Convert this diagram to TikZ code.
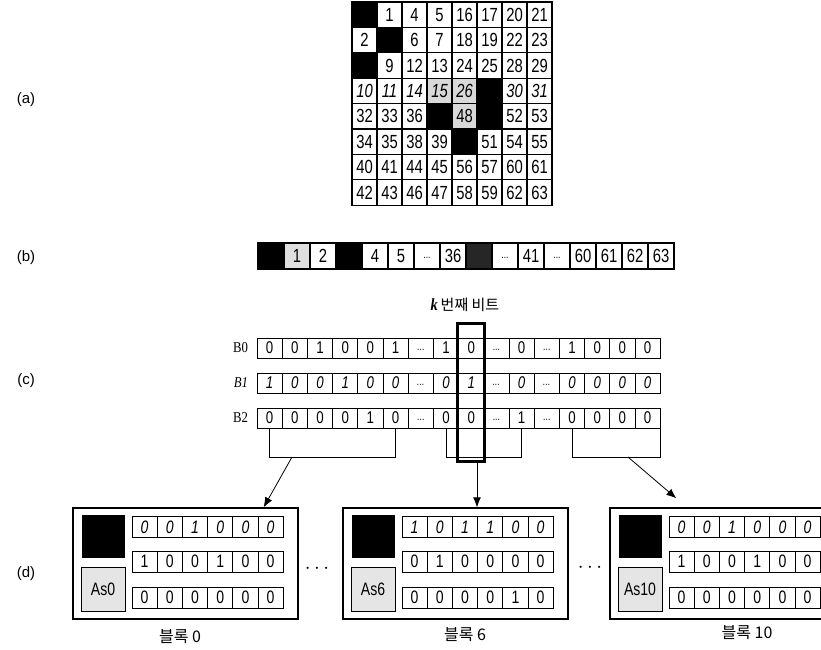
\documentclass[tikz,border=0pt]{standalone}
\usepackage{fontspec}
\setmainfont{Liberation Sans}
\newfontfamily\numfont[FakeStretch=0.78]{Liberation Sans}
\newfontfamily\serfont[FakeStretch=0.85]{Liberation Serif}
\newfontfamily\kofont{Noto Sans CJK KR}
\usetikzlibrary{arrows.meta}
\newcommand{\skipdots}{\raisebox{-4pt}{\fontsize{11}{11}\selectfont...}}

\begin{document}
\begin{tikzpicture}[x=1pt, y=-1pt,
        gcell/.style = {draw, line width=1.2pt, minimum width=25pt, minimum height=25.4pt, inner sep=0pt, font=\numfont\fontsize{19}{19}\selectfont},
        scell/.style = {draw, line width=1.2pt, minimum width=26pt, minimum height=26pt, inner sep=0pt, font=\numfont\fontsize{19}{19}\selectfont},
        bit/.style = {draw, line width=0.9pt, minimum width=25.2pt, minimum height=20pt, inner sep=0pt, font=\numfont\fontsize{17}{17}\selectfont},
        bbit/.style = {draw, line width=0.9pt, minimum width=25.2pt, minimum height=21pt, inner sep=0pt, font=\numfont\fontsize{18}{18}\selectfont},
        tag/.style = {font=\fontsize{15}{15}\selectfont},
        blab/.style = {anchor=east, font=\serfont\fontsize{15}{15}\selectfont},
        blk/.style = {draw, line width=1.3pt, minimum width=225pt, minimum height=111pt, inner sep=0pt},
        arr/.style = {-{Latex[length=10pt,width=8pt]}, line width=0.8pt}]
    \clip (0,0) rectangle (821,649);

    % (a) the 8x8 block
    \foreach \row [count=\i from 0] in {
        {black/,white/1,white/4,white/5,white/16,white/17,white/20,white/21},
        {white/2,black/,white/6,white/7,white/18,white/19,white/22,white/23},
        {black/,white/9,white/12,white/13,white/24,white/25,white/28,white/29},
        {white/10,white/11,white/14,gray!30/15,gray!30/26,black/,white/30,white/31},
        {white/32,white/33,white/36,black/,gray!30/48,black/,white/52,white/53},
        {white/34,white/35,white/38,white/39,black/,white/51,white/54,white/55},
        {white/40,white/41,white/44,white/45,white/56,white/57,white/60,white/61},
        {white/42,white/43,white/46,white/47,white/58,white/59,white/62,white/63}}
        \foreach \f/\val [count=\j from 0] in \row
            \node[gcell, fill=\f] (g-\i-\j) at ({352+25*(\j+0.5)}, {2+25.4*(\i+0.5)}) {\ifnum\i=3 \itshape\fi\val};

    % (b) scan order
    \foreach \f/\val [count=\j from 0] in {black/, gray!25/1, white/2, black/, white/4, white/5, white/\skipdots, white/36,
            black!85/, white/\skipdots, white/41, white/\skipdots, white/60, white/61, white/62, white/63}
        \node[scell, fill=\f] (s-\j) at ({258+26*(\j+0.5)}, 256) {\val};

    % (c) bit planes
    \foreach \ry/\vals [count=\r from 0] in {
            348/{0,0,1,0,0,1,\skipdots,1,0,\skipdots,0,\skipdots,1,0,0,0},
            383/{1,0,0,1,0,0,\skipdots,0,1,\skipdots,0,\skipdots,0,0,0,0},
            418/{0,0,0,0,1,0,\skipdots,0,0,\skipdots,1,\skipdots,0,0,0,0}}
        \foreach \val [count=\j from 0] in \vals
            \node[bit] (c-\r-\j) at ({257+25.2*(\j+0.5)}, \ry) {\ifnum\r=1 \itshape\fi\val};

    \node[blab] (lb0) at ([xshift=-5pt]c-0-0.west) {B0};
    \node[blab] (lb1) at ([xshift=-5pt]c-1-0.west) {\itshape B1};
    \node[blab] (lb2) at ([xshift=-5pt]c-2-0.west) {B2};

    \node (klab) at (465,305) {{\serfont\fontsize{17}{17}\selectfont\bfseries\itshape k} {\kofont\fontsize{15}{15}\selectfont 번째 비트}};
    \node[draw, line width=3pt, minimum width=27pt, minimum height=138pt, inner sep=0pt] (kcol) at (471.2,392) {};

    \draw[line width=0.8pt] (c-2-0.south) -- ++(0,29) -| (c-2-5.south);
    \draw[line width=0.8pt] (c-2-7.south) -- ++(0,29) -| (c-2-10.south);
    \draw[line width=0.8pt] (c-2-12.south) -- ++(0,29) -| (c-2-15.south east);
    \coordinate (br0) at (292,457);
    \coordinate (br6) at (477,461);
    \coordinate (br10) at (628,457);

    % (d) blocks
    \foreach \bx/\nm in {0/0, 270/6, 537/10} {
        \node[blk] (blk\nm) at ({185.5+\bx}, 563.5) {};
        \node[fill=black, minimum width=43pt, minimum height=43pt, inner sep=0pt] (key\nm) at ({103.5+\bx}, 536.5) {};
        \node[draw, fill=gray!20, minimum width=44pt, minimum height=44pt, inner sep=0pt,
            font=\numfont\fontsize{18}{18}\selectfont] (as\nm) at ({103+\bx}, 589.5) {As\nm};
    }
    \foreach \bx/\nm/\rr/\ry/\fl/\vals in {
            0/0/0/527/1/{0,0,1,0,0,0}, 0/0/1/561.5/0/{1,0,0,1,0,0}, 0/0/2/597.5/0/{0,0,0,0,0,0},
            270/6/0/527/1/{1,0,1,1,0,0}, 270/6/1/561.5/0/{0,1,0,0,0,0}, 270/6/2/597.5/0/{0,0,0,0,1,0},
            537/10/0/527/1/{0,0,1,0,0,0}, 537/10/1/561.5/0/{1,0,0,1,0,0}, 537/10/2/597.5/0/{0,0,0,0,0,0}}
        \foreach \val [count=\j from 0] in \vals
            \node[bbit] (b\nm-\rr-\j) at ({132+\bx+25.2*(\j+0.5)}, \ry) {\ifnum\fl=1 \itshape\fi\val};

    \node[font=\kofont\fontsize{16}{16}\selectfont] (cap0) at (180,637) {블록 0};
    \node[font=\kofont\fontsize{16}{16}\selectfont] (cap6) at (465,635) {블록 6};
    \node[font=\kofont\fontsize{16}{16}\selectfont] (cap10) at (747,633) {블록 10};
    \node[font=\fontsize{20}{20}\selectfont] (dots1) at (317,569) {$\cdots$};
    \node[font=\fontsize{20}{20}\selectfont] (dots2) at (590,568) {$\cdots$};

    \draw[arr] (br0) -- ([xshift=-35pt]blk0.north east);
    \draw[arr] (br6) -- (br6 |- blk6.north);
    \draw[arr] (br10) -- ([xshift=67pt,yshift=9pt]blk10.north west);

    \node[tag] (pa) at (26,100) {(a)};
    \node[tag] (pb) at (26,258) {(b)};
    \node[tag] (pc) at (26,381) {(c)};
    \node[tag] (pd) at (26,574) {(d)};
\end{tikzpicture}
\end{document}
